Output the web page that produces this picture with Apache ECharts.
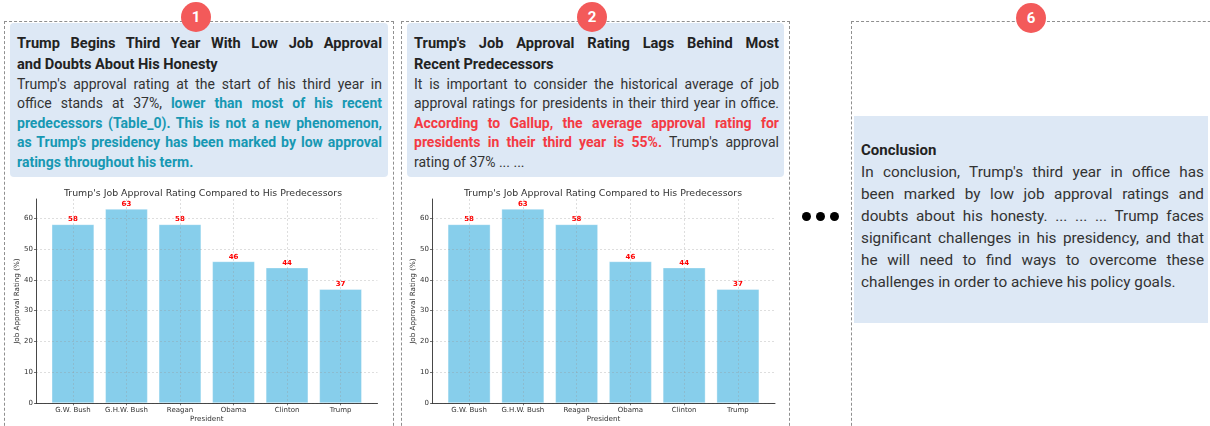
<!DOCTYPE html>
<html>
<head>
<meta charset="utf-8">
<script src="https://cdn.jsdelivr.net/npm/echarts@6/dist/echarts.min.js"></script>
<style>
  html, body { margin: 0; padding: 0; background: #fff; }
  body { position: relative; width: 1210px; height: 426px; overflow: hidden; font-family: Roboto, "Noto Sans", sans-serif; }
  .panel { position: absolute; top: 21px; height: 440px; border: 1px dashed #8f8f8f; box-sizing: border-box; }
  .badge { position: absolute; top: 2px; width: 30px; height: 30px; margin-left: -15px; border-radius: 50%;
           background: #f35a5a; color: #fff; font: bold 15px/30px Roboto, sans-serif; text-align: center; z-index: 3; }
  .card { position: absolute; background: #dde8f5; box-sizing: border-box; }
  .ttl { font-weight: bold; font-size: 14.6px; line-height: 21px; color: #222; }
  .txt { font-size: 14px; line-height: 19.6px; color: #333; }
  .j { display: block; text-align: justify; text-align-last: justify; }
  .l { display: block; text-align: left; }
  .teal { color: #1798b3; font-weight: bold; }
  .red { color: #f43a43; font-weight: bold; }
  .dot { position: absolute; top: 212px; width: 9px; height: 9px; margin-left: -4.5px; border-radius: 50%; background: #000; }
  .chart { position: absolute; top: 180px; height: 246px; }
</style>
</head>
<body>
  <!-- step 1 -->
  <div class="panel" style="left:4px;width:390px;"></div>
  <div class="badge" style="left:196px;">1</div>
  <div class="card" style="left:10px;top:23px;width:378px;height:154px;border-radius:4px;padding:9.5px 6px 0 7px;">
    <div class="ttl">
      <span class="j">Trump Begins Third Year With Low Job Approval</span>
      <span class="l">and Doubts About His Honesty</span>
    </div>
    <div class="txt">
      <span class="j">Trump's approval rating at the start of his third year in</span>
      <span class="j">office stands at 37%, <span class="teal">lower than most of his recent</span></span>
      <span class="j teal">predecessors (Table_0). This is not a new phenomenon,</span>
      <span class="j teal">as Trump's presidency has been marked by low approval</span>
      <span class="l teal">ratings throughout his term.</span>
    </div>
  </div>
  <div id="chart1" class="chart" style="left:0;width:400px;"></div>

  <!-- step 2 -->
  <div class="panel" style="left:401px;width:389px;"></div>
  <div class="badge" style="left:592px;">2</div>
  <div class="card" style="left:407px;top:23px;width:377px;height:154px;border-radius:4px;padding:9.5px 5px 0 7px;">
    <div class="ttl">
      <span class="j">Trump's Job Approval Rating Lags Behind Most</span>
      <span class="l">Recent Predecessors</span>
    </div>
    <div class="txt">
      <span class="j">It is important to consider the historical average of job</span>
      <span class="j">approval ratings for presidents in their third year in office.</span>
      <span class="j red">According to Gallup, the average approval rating for</span>
      <span class="j"><span class="red">presidents in their third year is 55%.</span> Trump's approval</span>
      <span class="l">rating of 37% ... ...</span>
    </div>
  </div>
  <div id="chart2" class="chart" style="left:400px;width:410px;"></div>

  <!-- skipped steps -->
  <div class="dot" style="left:806px;"></div>
  <div class="dot" style="left:820px;"></div>
  <div class="dot" style="left:834px;"></div>

  <!-- step 6 -->
  <div class="panel" style="left:851px;width:400px;"></div>
  <div class="badge" style="left:1031px;top:3px;">6</div>
  <div class="card" style="left:854px;top:116px;width:354px;height:207px;padding:23px 4px 0 7px;">
    <div style="font-weight:bold;font-size:15px;line-height:22px;color:#222;">Conclusion</div>
    <div style="font-size:15.3px;line-height:22px;color:#333;">
      <span class="j">In conclusion, Trump's third year in office has</span>
      <span class="j">been marked by low job approval ratings and</span>
      <span class="j">doubts about his honesty. ... ... ... Trump faces</span>
      <span class="j">significant challenges in his presidency, and that</span>
      <span class="j">he will need to find ways to overcome these</span>
      <span class="l">challenges in order to achieve his policy goals.</span>
    </div>
  </div>

<script>
  // Approval ratings at the start of the third year in office
  const presidents = ['G.W. Bush', 'G.H.W. Bush', 'Reagan', 'Obama', 'Clinton', 'Trump'];
  const approval = [58, 63, 58, 46, 44, 37];
  const yTicks = [0, 10, 20, 30, 40, 50, 60];
  const chartTitle = "Trump's Job Approval Rating Compared to His Predecessors";
  const xAxisName = 'President';
  const yAxisName = 'Job Approval Rating (%)';

  const FONT = 'DejaVu Sans';
  const INK = '#333';
  const GRID_LINE = { type: [2, 2], width: 0.7, color: 'rgba(150,150,150,0.45)' };

  // bar positions 0..n-1 with matplotlib-like 5% padding around the 0.8-wide bars
  const xPos = presidents.map((_, i) => i);
  const span = (presidents.length - 1) + 0.8;
  const xMin = -0.4 - 0.05 * span;
  const xMax = (presidents.length - 1) + 0.4 + 0.05 * span;
  const yMax = Math.max(...approval) * 1.05;

  function buildOption(g) {
    return {
      animation: false,
      textStyle: { fontFamily: FONT },
      title: {
        text: chartTitle, left: g.titleX, top: 9.5, textAlign: 'center', padding: 0,
        textStyle: { fontFamily: FONT, fontSize: 9.4, fontWeight: 'normal', color: INK }
      },
      grid: { left: g.left, right: g.right, top: 19, bottom: 22.7, containLabel: false, outerBoundsMode: 'none' },
      xAxis: {
        type: 'value', min: xMin, max: xMax, z: 3,
        name: xAxisName, nameLocation: 'middle', nameGap: 12, nameMoveOverlap: false,
        nameTextStyle: { fontFamily: FONT, fontSize: 7.2, color: INK },
        axisLine: { show: true, onZero: false, lineStyle: { color: INK, width: 0.9 } },
        axisTick: { show: true, length: 2, customValues: xPos, lineStyle: { color: INK, width: 0.7 } },
        axisLabel: { customValues: xPos, formatter: v => presidents[v], margin: 3, fontSize: 7, color: INK, fontFamily: FONT },
        splitLine: { show: true, lineStyle: GRID_LINE }
      },
      yAxis: {
        type: 'value', min: 0, max: yMax, z: 3,
        name: yAxisName, nameLocation: 'middle', nameGap: 15, nameMoveOverlap: false,
        nameTextStyle: { fontFamily: FONT, fontSize: 7.2, color: INK },
        axisLine: { show: true, onZero: false, lineStyle: { color: INK, width: 0.9 } },
        axisTick: { show: true, length: 2, customValues: yTicks, lineStyle: { color: INK, width: 0.7 } },
        axisLabel: { customValues: yTicks, margin: 3, fontSize: 7, color: INK, fontFamily: FONT },
        splitLine: { show: true, lineStyle: GRID_LINE }
      },
      series: [{
        type: 'bar',
        data: xPos.map(i => [i, approval[i]]),
        barWidth: '80%',
        itemStyle: { color: '#87CEEB', borderColor: 'rgba(255,255,255,0.35)', borderWidth: 1 },
        label: {
          show: true, position: 'top', distance: 1,
          formatter: p => p.value[1],
          color: '#ff0000', fontWeight: 'bold', fontSize: 7, fontFamily: FONT
        }
      }]
    };
  }

  echarts.init(document.getElementById('chart1'), null, { renderer: 'canvas' })
    .setOption(buildOption({ left: 36, right: 22.5, titleX: 203 }));
  echarts.init(document.getElementById('chart2'), null, { renderer: 'canvas' })
    .setOption(buildOption({ left: 32, right: 35, titleX: 203 }));
</script>
</body>
</html>
